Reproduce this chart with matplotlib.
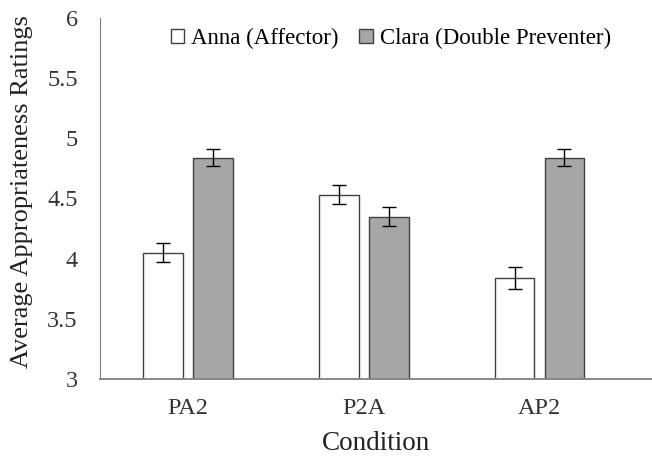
import matplotlib.pyplot as plt
import numpy as np

plt.rcParams['font.family'] = ['Liberation Serif', 'DejaVu Serif']

conditions = ["PA2", "P2A", "AP2"]
anna = [4.05, 4.53, 3.84]
anna_err = [0.08, 0.08, 0.09]
clara = [4.84, 4.35, 4.84]
clara_err = [0.07, 0.08, 0.07]

x = np.arange(len(conditions))
w = 0.227
gap = 0.057

fig = plt.figure(figsize=(6.52, 4.57), dpi=100)
ax = fig.add_axes([0.1534, 0.1707, 0.8466, 0.79])

ax.bar(x - (w + gap) / 2, anna, w, yerr=anna_err, color="white", edgecolor="#404040",
       linewidth=1.0, capsize=5, error_kw=dict(elinewidth=1.0, capthick=1.0, ecolor="black"),
       label="Anna (Affector)")
ax.bar(x + (w + gap) / 2, clara, w, yerr=clara_err, color="#a6a6a6", edgecolor="#404040",
       linewidth=1.0, capsize=5, error_kw=dict(elinewidth=1.0, capthick=1.0, ecolor="black"),
       label="Clara (Double Preventer)")

ax.set_ylim(3, 6)
ax.set_yticks([3, 3.5, 4, 4.5, 5, 5.5, 6])
ax.set_yticklabels(["3", "3.5", "4", "4.5", "5", "5.5", "6"])
ax.set_xlim(-0.5, 2.64)
ax.set_xticks(x)
ax.set_xticklabels(conditions)

ax.spines["top"].set_visible(False)
ax.spines["right"].set_visible(False)
ax.spines["left"].set_color("#808080")
ax.spines["bottom"].set_color("#808080")
ax.spines["bottom"].set_linewidth(1.3)
ax.tick_params(axis="y", length=0, labelsize=17.5, pad=16, colors="#333333")
ax.tick_params(axis="x", length=0, labelsize=17.5, pad=14, colors="#333333")

ax.set_xlabel("Condition", fontsize=19.5, labelpad=8, color="#222222")
ax.set_ylabel("Average Appropriateness Ratings", fontsize=19, color="#222222")
ax.yaxis.set_label_coords(-0.122, 0.518)

ax.legend(loc="upper center", bbox_to_anchor=(0.527, 1.03), ncol=2, frameon=False,
          fontsize=16.5, handlelength=0.6, handleheight=0.6, handletextpad=0.3,
          columnspacing=0.9)

plt.savefig("out.png", dpi=100)
